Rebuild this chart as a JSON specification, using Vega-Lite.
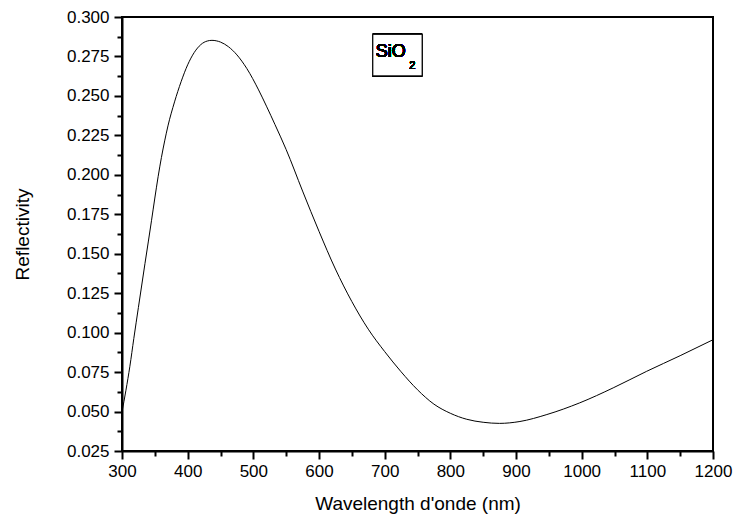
{
  "$schema": "https://vega.github.io/schema/vega-lite/v6.json",
  "width": 591,
  "height": 434,
  "autosize": "none",
  "padding": {"left": 122, "top": 17, "right": 21, "bottom": 72},
  "background": "white",
  "config": {
    "font": "Liberation Sans",
    "view": {"stroke": "black", "strokeWidth": 2},
    "axis": {
      "grid": false,
      "domainColor": "black",
      "domainWidth": 2,
      "tickColor": "black",
      "tickWidth": 2,
      "labelColor": "black",
      "titleColor": "black",
      "labelFont": "Liberation Sans",
      "titleFont": "Liberation Sans",
      "labelFontSize": 17,
      "titleFontSize": 19,
      "titleFontWeight": "normal"
    }
  },
  "data": {
    "values": [
      {"wavelength": 300, "reflectivity": 0.0498},
      {"wavelength": 306, "reflectivity": 0.0635},
      {"wavelength": 312, "reflectivity": 0.0787},
      {"wavelength": 318, "reflectivity": 0.0963},
      {"wavelength": 325, "reflectivity": 0.1160},
      {"wavelength": 335, "reflectivity": 0.1438},
      {"wavelength": 345, "reflectivity": 0.1712},
      {"wavelength": 350, "reflectivity": 0.1853},
      {"wavelength": 355, "reflectivity": 0.1988},
      {"wavelength": 360, "reflectivity": 0.2109},
      {"wavelength": 365, "reflectivity": 0.2215},
      {"wavelength": 370, "reflectivity": 0.2310},
      {"wavelength": 380, "reflectivity": 0.2462},
      {"wavelength": 390, "reflectivity": 0.2590},
      {"wavelength": 400, "reflectivity": 0.2697},
      {"wavelength": 410, "reflectivity": 0.2775},
      {"wavelength": 420, "reflectivity": 0.2825},
      {"wavelength": 430, "reflectivity": 0.2848},
      {"wavelength": 437, "reflectivity": 0.2852},
      {"wavelength": 450, "reflectivity": 0.2841},
      {"wavelength": 462, "reflectivity": 0.2812},
      {"wavelength": 475, "reflectivity": 0.2760},
      {"wavelength": 490, "reflectivity": 0.2674},
      {"wavelength": 508, "reflectivity": 0.2538},
      {"wavelength": 520, "reflectivity": 0.2435},
      {"wavelength": 533, "reflectivity": 0.2318},
      {"wavelength": 550, "reflectivity": 0.2160},
      {"wavelength": 575, "reflectivity": 0.1897},
      {"wavelength": 600, "reflectivity": 0.1642},
      {"wavelength": 625, "reflectivity": 0.1403},
      {"wavelength": 650, "reflectivity": 0.1197},
      {"wavelength": 675, "reflectivity": 0.1022},
      {"wavelength": 700, "reflectivity": 0.0880},
      {"wavelength": 725, "reflectivity": 0.0752},
      {"wavelength": 750, "reflectivity": 0.0638},
      {"wavelength": 775, "reflectivity": 0.0547},
      {"wavelength": 800, "reflectivity": 0.0489},
      {"wavelength": 825, "reflectivity": 0.0451},
      {"wavelength": 850, "reflectivity": 0.0432},
      {"wavelength": 875, "reflectivity": 0.0425},
      {"wavelength": 906, "reflectivity": 0.0437},
      {"wavelength": 947, "reflectivity": 0.0481},
      {"wavelength": 997, "reflectivity": 0.0555},
      {"wavelength": 1048, "reflectivity": 0.0650},
      {"wavelength": 1099, "reflectivity": 0.0755},
      {"wavelength": 1150, "reflectivity": 0.0854},
      {"wavelength": 1200, "reflectivity": 0.0955}
    ]
  },
  "resolve": {"axis": {"x": "independent", "y": "independent"}},
  "layer": [
    {
      "mark": {"type": "line", "color": "black", "strokeWidth": 1, "interpolate": "monotone", "clip": true},
      "encoding": {
        "x": {
          "field": "wavelength",
          "type": "quantitative",
          "scale": {"domain": [300, 1200], "nice": false, "zero": false},
          "axis": {
            "orient": "bottom",
            "title": "Wavelength d'onde (nm)",
            "values": [300, 400, 500, 600, 700, 800, 900, 1000, 1100, 1200],
            "format": "d",
            "tickSize": 8,
            "labelPadding": 4,
            "titlePadding": 15,
            "labelFlush": false,
            "labelOverlap": false
          }
        },
        "y": {
          "field": "reflectivity",
          "type": "quantitative",
          "scale": {"domain": [0.025, 0.3], "nice": false, "zero": false},
          "axis": {
            "orient": "left",
            "title": "Reflectivity",
            "values": [0.025, 0.05, 0.075, 0.1, 0.125, 0.15, 0.175, 0.2, 0.225, 0.25, 0.275, 0.3],
            "format": ".3f",
            "tickSize": 8,
            "labelPadding": 5,
            "titlePadding": 34,
            "labelFlush": false,
            "labelOverlap": false
          }
        }
      }
    },
    {
      "mark": {"type": "line", "opacity": 0, "interpolate": "monotone"},
      "encoding": {
        "x": {
          "field": "wavelength",
          "type": "quantitative",
          "axis": {
            "orient": "bottom",
            "title": null,
            "values": [350, 450, 550, 650, 750, 850, 950, 1050, 1150],
            "labels": false,
            "domain": false,
            "tickSize": 5
          }
        },
        "y": {
          "field": "reflectivity",
          "type": "quantitative",
          "axis": {
            "orient": "left",
            "title": null,
            "values": [0.0375, 0.0625, 0.0875, 0.1125, 0.1375, 0.1625, 0.1875, 0.2125, 0.2375, 0.2625, 0.2875],
            "labels": false,
            "domain": false,
            "tickSize": 5
          }
        }
      }
    },
    {
      "mark": {"type": "rect", "fill": "white", "stroke": "black", "strokeWidth": 1},
      "encoding": {
        "x": {"datum": 682, "type": "quantitative", "axis": null},
        "x2": {"datum": 757},
        "y": {"datum": 0.2627, "type": "quantitative", "axis": null},
        "y2": {"datum": 0.289}
      }
    },
    {
      "mark": {"type": "text", "text": "SiO", "fontSize": 18, "align": "left", "baseline": "alphabetic", "color": "black", "font": "Liberation Sans"},
      "encoding": {
        "x": {"datum": 686.5, "type": "quantitative", "axis": null},
        "y": {"datum": 0.2745, "type": "quantitative", "axis": null}
      }
    },
    {
      "mark": {"type": "text", "text": "2", "fontSize": 11, "align": "left", "baseline": "alphabetic", "color": "black", "font": "Liberation Sans"},
      "encoding": {
        "x": {"datum": 737.5, "type": "quantitative", "axis": null},
        "y": {"datum": 0.2669, "type": "quantitative", "axis": null}
      }
    }
  ]
}
